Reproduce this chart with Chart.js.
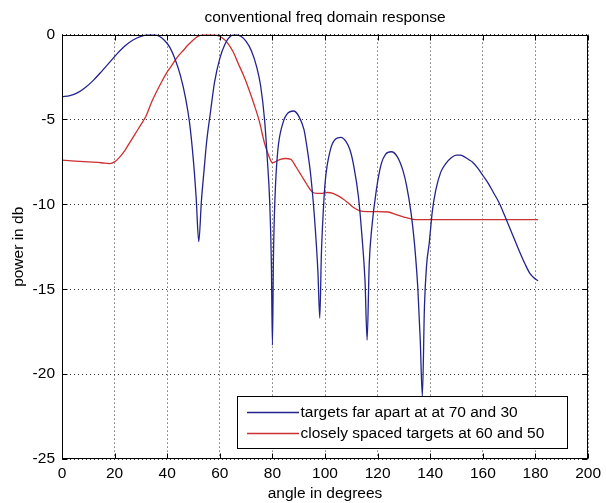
<!DOCTYPE html>
<html>
<head>
<meta charset="utf-8">
<script src="https://cdn.jsdelivr.net/npm/chart.js@4/dist/chart.umd.min.js"></script>
<style>
  html, body { margin: 0; padding: 0; background: #ffffff; }
  #wrap { width: 606px; height: 503px; }
</style>
</head>
<body>
<div id="wrap"><canvas id="c" width="606" height="503"></canvas></div>
<script>
// ---- data ----
const titleText = 'conventional freq domain response';
const xAxisLabel = 'angle in degrees';
const yAxisLabel = 'power in db';

const farLabel = 'targets far apart at at 70 and 30';
const farAngles = [0,3,6,9,12,15,18,21,24,27,30,33,35,37,39,41,43,45,47,48.5,50,51,52,53,54,55,56.5,58,60,62,64,66,68,70,72,74,75.5,77,78,79,79.6,80,80.4,81,82,84,86,88,90,92,93,94.5,96,97.3,98,98.6,99.3,100.1,102,104,106,108,109.5,111,112.7,114,115.2,116,116.8,117.7,119.5,121.4,123,125.2,127.5,129.6,131,132.7,134,135.3,136.2,137,137.8,138.6,139.6,140.8,142.1,144,145.9,148,150,151.5,153,155,156,158,160,162,164,166,168,170,172,174,176,178,180,181];
const farPower = [-3.66,-3.6,-3.42,-3.1,-2.68,-2.18,-1.65,-1.12,-0.66,-0.32,-0.1,0,0,-0.1,-0.35,-0.75,-1.45,-2.4,-3.75,-5.2,-7.5,-9.6,-12.2,-9.8,-8.0,-6.3,-4.5,-2.8,-1.4,-0.55,-0.1,0,-0.1,-0.4,-0.95,-1.9,-3.0,-5.0,-7.2,-10.0,-13.5,-18.3,-13.0,-9.5,-6.9,-5.2,-4.6,-4.5,-4.8,-5.6,-6.5,-8.2,-10.8,-14.0,-16.7,-13.0,-10.5,-8.6,-6.8,-6.15,-6.05,-6.3,-6.8,-7.8,-9.55,-11.8,-14.5,-18.0,-13.5,-11.5,-9.16,-7.6,-7.05,-6.9,-7.2,-8.0,-8.9,-10.5,-12.3,-15.0,-18.0,-21.3,-16.0,-13.6,-12.3,-10.4,-9.16,-8.1,-7.6,-7.25,-7.1,-7.1,-7.2,-7.4,-7.5,-7.85,-8.3,-8.75,-9.3,-9.85,-10.55,-11.3,-12.05,-12.8,-13.5,-14.1,-14.4,-14.5];

const closeLabel = 'closely spaced targets at 60 and 50';
const closeAngles = [0,5,10,15,18,20,22,24,26,28,30,32,34,36,38,40,42,44,46,48,50,52,54,57,59,61,63,65,67,69,71,73,75,77,79,80,81,83,85,87,89,91,93,95,97,99,101,103,105,107,109,111,113,116,120,124,127,130,133,136,150,165,181];
const closePower = [-7.4,-7.45,-7.5,-7.55,-7.6,-7.5,-7.2,-6.8,-6.3,-5.8,-5.3,-4.78,-4.0,-3.35,-2.75,-2.2,-1.75,-1.3,-0.95,-0.6,-0.3,-0.08,0,0,-0.05,-0.2,-0.5,-1.0,-1.7,-2.4,-3.2,-4.1,-5.1,-6.4,-7.3,-7.55,-7.5,-7.35,-7.3,-7.35,-7.8,-8.3,-8.8,-9.25,-9.35,-9.35,-9.3,-9.35,-9.5,-9.7,-9.95,-10.2,-10.37,-10.43,-10.43,-10.45,-10.6,-10.75,-10.87,-10.9,-10.9,-10.9,-10.9];

const xTicks = [0,20,40,60,80,100,120,140,160,180,200];
const yTicks = [-25,-20,-15,-10,-5,0];

// ---- styles ----
const FONT = 'Liberation Sans, Arial, Helvetica, sans-serif';
const FS = 15.5;
const BLUE = '#23238e';
const RED = '#cc3030';

function toXY(xs, ys) { return xs.map((x, i) => ({ x: x, y: ys[i] })); }

const framePlugin = {
  id: 'frameAndLegend',
  afterDatasetsDraw(chart) {
    const ctx = chart.ctx;
    const a = chart.chartArea;
    const xs = chart.scales.x, ys = chart.scales.y;
    const L = Math.round(a.left) + 0.5, R = Math.round(a.right) - 0.5;
    const T = Math.round(a.top) + 0.5, B = Math.round(a.bottom) - 0.5;
    ctx.save();
    ctx.strokeStyle = '#000';
    ctx.lineWidth = 1;
    ctx.setLineDash([]);
    ctx.strokeRect(L, T, R - L, B - T);
    const tl = 5;
    ctx.beginPath();
    xTicks.forEach(v => {
      const p = Math.round(xs.getPixelForValue(v)) + 0.5;
      ctx.moveTo(p, B); ctx.lineTo(p, B - tl);
      ctx.moveTo(p, T); ctx.lineTo(p, T + tl);
    });
    yTicks.forEach(v => {
      const p = Math.round(ys.getPixelForValue(v)) + 0.5;
      ctx.moveTo(L, p); ctx.lineTo(L + tl, p);
      ctx.moveTo(R, p); ctx.lineTo(R - tl, p);
    });
    ctx.stroke();

    // legend box (bottom-right inside axes)
    const bx = 237.5, by = 396.5, bw = 330, bh = 52;
    ctx.fillStyle = '#fff';
    ctx.fillRect(bx, by, bw, bh);
    ctx.strokeStyle = '#000';
    ctx.strokeRect(bx, by, bw, bh);
    const rows = [by + 15, by + 36.5];
    chart.data.datasets.forEach((ds, i) => {
      const ry = Math.round(rows[i]) + 0.5;
      ctx.strokeStyle = ds.borderColor;
      ctx.lineWidth = 1.3;
      ctx.beginPath();
      ctx.moveTo(247, ry); ctx.lineTo(299, ry);
      ctx.stroke();
      ctx.fillStyle = '#000';
      ctx.font = FS + 'px ' + FONT;
      ctx.textBaseline = 'middle';
      ctx.textAlign = 'left';
      ctx.fillText(ds.label, 300.5, ry);
    });
    ctx.restore();
  }
};

new Chart(document.getElementById('c'), {
  type: 'line',
  data: {
    datasets: [
      { label: farLabel, data: toXY(farAngles, farPower), borderColor: BLUE, borderWidth: 1.3, pointRadius: 0, cubicInterpolationMode: 'monotone', fill: false },
      { label: closeLabel, data: toXY(closeAngles, closePower), borderColor: RED, borderWidth: 1.3, pointRadius: 0, cubicInterpolationMode: 'monotone', fill: false }
    ]
  },
  options: {
    responsive: false,
    devicePixelRatio: 1,
    animation: false,
    layout: { padding: { left: 0, right: 12, top: 0, bottom: 0 } },
    plugins: {
      legend: { display: false },
      tooltip: { enabled: false },
      title: {
        display: true,
        text: titleText,
        fullSize: false,
        color: '#000',
        font: { family: FONT, size: FS, weight: 'normal' },
        padding: { top: 8, bottom: 8 }
      }
    },
    scales: {
      x: {
        type: 'linear',
        min: 0, max: 200,
        afterBuildTicks(scale) { scale.ticks = xTicks.map(v => ({ value: v })); },
        afterFit(scale) { scale.height = 44; },
        ticks: { color: '#000', font: { family: FONT, size: FS }, padding: 5, maxRotation: 0, autoSkip: false },
        grid: { color: '#333', lineWidth: 1, drawTicks: false },
        border: { display: false, dash: [1, 3] },
        title: { display: true, text: xAxisLabel, color: '#000', font: { family: FONT, size: FS }, padding: { top: 0, bottom: 0 } }
      },
      y: {
        type: 'linear',
        min: -25, max: 0,
        afterBuildTicks(scale) { scale.ticks = yTicks.map(v => ({ value: v })); },
        afterFit(scale) { scale.width = 62; },
        ticks: { color: '#000', font: { family: FONT, size: FS }, padding: 7, autoSkip: false },
        grid: { color: '#333', lineWidth: 1, drawTicks: false },
        border: { display: false, dash: [1, 3] },
        title: { display: true, text: yAxisLabel, color: '#000', font: { family: FONT, size: FS }, padding: { top: 9, bottom: 0 } }
      }
    }
  },
  plugins: [framePlugin]
});
</script>
</body>
</html>
